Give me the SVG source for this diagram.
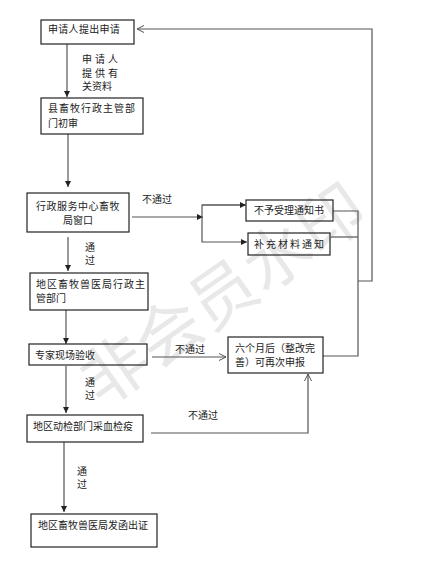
<svg xmlns="http://www.w3.org/2000/svg" width="429" height="588" viewBox="0 0 429 588">
<style>
.box{fill:none;stroke:#222;stroke-width:1.2}
.t{font-family:"Noto Sans CJK SC","Noto Sans",sans-serif;font-size:10px;fill:#222}
.v{font-family:"Noto Sans CJK SC","Noto Sans",sans-serif;font-size:10px;fill:#222;writing-mode:vertical-rl;letter-spacing:3px}
.c{stroke:#555;stroke-width:1.2;fill:none}
.wm{font-family:"Noto Sans CJK SC",sans-serif;font-size:66px;fill:#e8e8e8}
</style>
<defs>
<marker id="fa" markerWidth="8" markerHeight="8" refX="7" refY="4" orient="auto" markerUnits="userSpaceOnUse">
<path d="M1,1 L7,4 L1,7 Z" fill="#222"/>
</marker>
<marker id="oa" markerWidth="10" markerHeight="10" refX="9" refY="5" orient="auto" markerUnits="userSpaceOnUse">
<path d="M2,1.5 L9,5 L2,8.5" fill="none" stroke="#555" stroke-width="1"/>
</marker>
</defs>
<rect width="429" height="588" fill="#fff"/>
<text class="wm" transform="translate(220,290) rotate(-35)" text-anchor="middle" dominant-baseline="central">非会员水印</text>

<g id="connectors">
<line class="c" x1="67" y1="44" x2="67" y2="97" marker-end="url(#fa)"/>
<line class="c" x1="68" y1="134" x2="68" y2="187" marker-end="url(#fa)"/>
<line class="c" x1="132" y1="217" x2="203" y2="217" marker-end="url(#fa)"/>
<polyline class="c" points="245,205 202,205 202,242 247,242" marker-end="url(#fa)"/>
<line class="c" x1="202" y1="205" x2="246" y2="205" marker-end="url(#fa)"/>
<line class="c" x1="68" y1="237" x2="68" y2="271" marker-end="url(#fa)"/>
<line class="c" x1="66" y1="310" x2="66" y2="344" marker-end="url(#fa)"/>
<line class="c" x1="152" y1="357" x2="226" y2="357" marker-end="url(#oa)"/>
<line class="c" x1="66" y1="366" x2="66" y2="413" marker-end="url(#fa)"/>
<polyline class="c" points="151,433 308,433 308,374" marker-end="url(#oa)"/>
<line class="c" x1="64" y1="442" x2="64" y2="512" marker-end="url(#fa)"/>
<polyline class="c" points="333,211 358,211 358,356 323,356"/>
<line class="c" x1="331" y1="237" x2="358" y2="237"/>
<polyline class="c" points="358,281 372,281 372,29 137,29" marker-end="url(#oa)"/>
</g>

<g id="n1"><rect class="box" x="41" y="20" width="93" height="24"/><text class="t" x="48" y="33" letter-spacing="0.3">申请人提出申请</text></g>
<g id="lbl1"><text class="t" x="82" y="63"><tspan x="82" letter-spacing="3">申请人</tspan><tspan x="82" dy="13.5" letter-spacing="3">提供有</tspan><tspan x="82" dy="13.5">关资料</tspan></text></g>
<g id="n2"><rect class="box" x="41" y="98" width="102" height="36"/><text class="t" x="48" y="112"><tspan x="48" letter-spacing="1">县畜牧行政主管部</tspan><tspan x="48" dy="15">门初审</tspan></text></g>
<g id="n3"><rect class="box" x="27" y="193" width="102" height="39"/><text class="t" x="78" y="210" text-anchor="middle"><tspan x="78" letter-spacing="0.5">行政服务中心畜牧</tspan><tspan x="78" dy="14">局窗口</tspan></text></g>
<g id="lbl2"><text class="t" x="142" y="203">不通过</text></g>
<g id="n4"><rect class="box" x="246" y="200" width="87" height="21"/><text class="t" x="254" y="214">不予受理通知书</text></g>
<g id="n5"><rect class="box" x="248" y="233" width="82" height="22"/><text class="t" x="254" y="248" letter-spacing="2">补充材料通知</text></g>
<g id="lbl3"><text class="v" x="90" y="242">通过</text></g>
<g id="n6"><rect class="box" x="30" y="273" width="118" height="37"/><text class="t" x="36" y="288"><tspan x="36" letter-spacing="1">地区畜牧兽医局行政主</tspan><tspan x="36" dy="14">管部门</tspan></text></g>
<g id="n7"><rect class="box" x="29" y="344" width="118" height="21"/><text class="t" x="35" y="359">专家现场验收</text></g>
<g id="lbl4"><text class="t" x="175" y="353">不通过</text></g>
<g id="n8"><rect class="box" x="228" y="337" width="95" height="36"/><text class="t" x="235" y="351.5"><tspan x="235">六个月后（整改完</tspan><tspan x="235" dy="14">善）可再次申报</tspan></text></g>
<g id="lbl5"><text class="v" x="90" y="377">通过</text></g>
<g id="n9"><rect class="box" x="27" y="415" width="116" height="27"/><text class="t" x="33" y="430">地区动检部门采血检疫</text></g>
<g id="lbl6"><text class="t" x="188" y="419">不通过</text></g>
<g id="lbl7"><text class="v" x="82" y="466">通过</text></g>
<g id="n10"><rect class="box" x="31" y="514" width="126" height="33"/><text class="t" x="38" y="529">地区畜牧兽医局发函出证</text></g>
</svg>
